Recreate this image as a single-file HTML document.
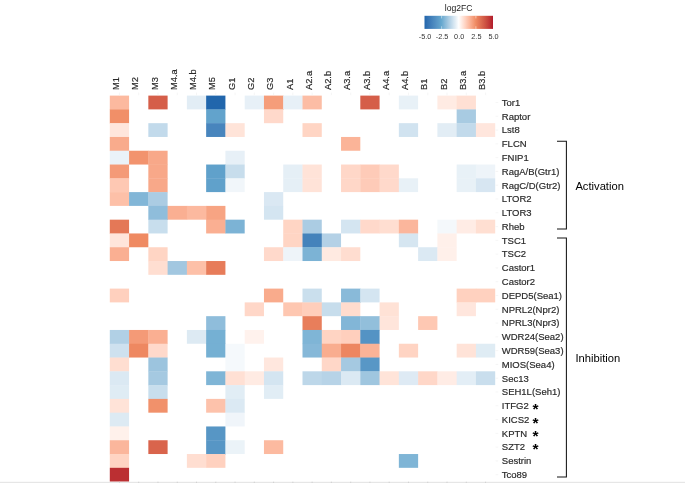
<!DOCTYPE html>
<html><head><meta charset="utf-8"><title>log2FC heatmap</title>
<style>html,body{margin:0;padding:0;background:#fff}svg{display:block}text{font-family:"Liberation Sans",Arial,Helvetica,sans-serif}</style></head><body>
<svg width="685" height="483" viewBox="0 0 685 483">
<rect width="685" height="483" fill="#fff"/>
<defs><linearGradient id="lg" x1="0" x2="1" y1="0" y2="0">
<stop offset="0.000" stop-color="#2166AC"/>
<stop offset="0.025" stop-color="#2B6CB0"/>
<stop offset="0.050" stop-color="#3473B3"/>
<stop offset="0.075" stop-color="#3B79B7"/>
<stop offset="0.100" stop-color="#4280BA"/>
<stop offset="0.125" stop-color="#4987BE"/>
<stop offset="0.150" stop-color="#4F8DC1"/>
<stop offset="0.175" stop-color="#5694C5"/>
<stop offset="0.200" stop-color="#5B9BC8"/>
<stop offset="0.225" stop-color="#61A2CC"/>
<stop offset="0.250" stop-color="#67A9CF"/>
<stop offset="0.275" stop-color="#78B1D4"/>
<stop offset="0.300" stop-color="#89BAD9"/>
<stop offset="0.325" stop-color="#98C2DD"/>
<stop offset="0.350" stop-color="#A8CBE2"/>
<stop offset="0.375" stop-color="#B7D3E7"/>
<stop offset="0.400" stop-color="#C5DCEC"/>
<stop offset="0.425" stop-color="#D4E5F1"/>
<stop offset="0.450" stop-color="#E2EDF5"/>
<stop offset="0.475" stop-color="#F1F6FA"/>
<stop offset="0.500" stop-color="#FFFFFF"/>
<stop offset="0.525" stop-color="#FFF3EE"/>
<stop offset="0.550" stop-color="#FFE7DE"/>
<stop offset="0.575" stop-color="#FFDCCE"/>
<stop offset="0.600" stop-color="#FFD0BE"/>
<stop offset="0.625" stop-color="#FDC4AE"/>
<stop offset="0.650" stop-color="#FCB99F"/>
<stop offset="0.675" stop-color="#F9AD8F"/>
<stop offset="0.700" stop-color="#F6A180"/>
<stop offset="0.725" stop-color="#F39671"/>
<stop offset="0.750" stop-color="#EF8A62"/>
<stop offset="0.775" stop-color="#E9805C"/>
<stop offset="0.800" stop-color="#E37656"/>
<stop offset="0.825" stop-color="#DD6C51"/>
<stop offset="0.850" stop-color="#D7624B"/>
<stop offset="0.875" stop-color="#D15845"/>
<stop offset="0.900" stop-color="#CB4D40"/>
<stop offset="0.925" stop-color="#C5423B"/>
<stop offset="0.950" stop-color="#BF3635"/>
<stop offset="0.975" stop-color="#B82930"/>
<stop offset="1.000" stop-color="#B2182B"/>
</linearGradient></defs>
<rect x="424.5" y="15.8" width="68.5" height="13.1" fill="url(#lg)"/>
<path d="M441.6 15.8v2.6M441.6 28.9v-2.6" stroke="#fff" stroke-width="0.6" opacity="0.8"/>
<path d="M458.8 15.8v2.6M458.8 28.9v-2.6" stroke="#fff" stroke-width="0.6" opacity="0.8"/>
<path d="M475.9 15.8v2.6M475.9 28.9v-2.6" stroke="#fff" stroke-width="0.6" opacity="0.8"/>
<text x="458.7" y="11" font-size="8.6" text-anchor="middle" fill="#222">log2FC</text>
<text x="425.0" y="39.1" font-size="7.3" text-anchor="middle" fill="#333">-5.0</text>
<text x="442.1" y="39.1" font-size="7.3" text-anchor="middle" fill="#333">-2.5</text>
<text x="459.2" y="39.1" font-size="7.3" text-anchor="middle" fill="#333">0.0</text>
<text x="476.4" y="39.1" font-size="7.3" text-anchor="middle" fill="#333">2.5</text>
<text x="493.5" y="39.1" font-size="7.3" text-anchor="middle" fill="#333">5.0</text>
<g>
<rect x="109.80" y="95.60" width="19.27" height="14.14" fill="#FCB99F"/>
<rect x="148.34" y="95.60" width="19.27" height="13.79" fill="#D55E49"/>
<rect x="186.88" y="95.60" width="19.62" height="13.79" fill="#E2EDF5"/>
<rect x="206.15" y="95.60" width="19.27" height="14.14" fill="#2166AC"/>
<rect x="244.69" y="95.60" width="19.62" height="13.79" fill="#E7F0F7"/>
<rect x="263.96" y="95.60" width="19.62" height="14.14" fill="#F59D7A"/>
<rect x="283.23" y="95.60" width="19.62" height="13.79" fill="#E7F0F7"/>
<rect x="302.50" y="95.60" width="19.27" height="13.79" fill="#FCBDA5"/>
<rect x="360.31" y="95.60" width="19.27" height="13.79" fill="#D55E49"/>
<rect x="398.85" y="95.60" width="19.27" height="13.79" fill="#E8F1F7"/>
<rect x="437.39" y="95.60" width="19.62" height="13.79" fill="#FFEBE3"/>
<rect x="456.66" y="95.60" width="19.27" height="14.14" fill="#FFE0D4"/>
<rect x="109.80" y="109.39" width="19.27" height="14.14" fill="#F18F68"/>
<rect x="206.15" y="109.39" width="19.27" height="14.14" fill="#62A3CC"/>
<rect x="263.96" y="109.39" width="19.27" height="13.79" fill="#FFD9CB"/>
<rect x="456.66" y="109.39" width="19.27" height="14.14" fill="#A8CBE2"/>
<rect x="109.80" y="123.17" width="19.27" height="14.14" fill="#FFE6DC"/>
<rect x="148.34" y="123.17" width="19.27" height="13.79" fill="#C2DAEB"/>
<rect x="206.15" y="123.17" width="19.62" height="13.79" fill="#4885BD"/>
<rect x="225.42" y="123.17" width="19.27" height="13.79" fill="#FFE4D9"/>
<rect x="302.50" y="123.17" width="19.27" height="13.79" fill="#FFD5C4"/>
<rect x="398.85" y="123.17" width="19.27" height="13.79" fill="#D1E3F0"/>
<rect x="437.39" y="123.17" width="19.62" height="13.79" fill="#E2EDF5"/>
<rect x="456.66" y="123.17" width="19.62" height="13.79" fill="#C2DAEB"/>
<rect x="475.93" y="123.17" width="19.27" height="13.79" fill="#FFE6DD"/>
<rect x="109.80" y="136.96" width="19.27" height="14.14" fill="#F9AB8C"/>
<rect x="341.04" y="136.96" width="19.27" height="13.79" fill="#FBB498"/>
<rect x="109.80" y="150.74" width="19.62" height="14.14" fill="#EAF2F8"/>
<rect x="129.07" y="150.74" width="19.62" height="13.79" fill="#F2936E"/>
<rect x="148.34" y="150.74" width="19.27" height="14.14" fill="#F8A889"/>
<rect x="225.42" y="150.74" width="19.27" height="14.14" fill="#E7F0F7"/>
<rect x="109.80" y="164.53" width="19.27" height="14.14" fill="#F49A77"/>
<rect x="148.34" y="164.53" width="19.27" height="14.14" fill="#F8A889"/>
<rect x="206.15" y="164.53" width="19.62" height="14.14" fill="#60A1CB"/>
<rect x="225.42" y="164.53" width="19.27" height="14.14" fill="#C7DDEC"/>
<rect x="283.23" y="164.53" width="19.62" height="14.14" fill="#E5EFF6"/>
<rect x="302.50" y="164.53" width="19.27" height="14.14" fill="#FFE3D8"/>
<rect x="341.04" y="164.53" width="19.62" height="14.14" fill="#FFD7C8"/>
<rect x="360.31" y="164.53" width="19.62" height="14.14" fill="#FECBB8"/>
<rect x="379.58" y="164.53" width="19.27" height="14.14" fill="#FFD9CB"/>
<rect x="456.66" y="164.53" width="19.62" height="14.14" fill="#E8F1F7"/>
<rect x="475.93" y="164.53" width="19.27" height="14.14" fill="#EEF4F9"/>
<rect x="109.80" y="178.31" width="19.27" height="14.14" fill="#FEC8B3"/>
<rect x="148.34" y="178.31" width="19.27" height="14.14" fill="#F8A889"/>
<rect x="206.15" y="178.31" width="19.62" height="13.79" fill="#60A1CB"/>
<rect x="225.42" y="178.31" width="19.27" height="13.79" fill="#F1F6FA"/>
<rect x="283.23" y="178.31" width="19.62" height="13.79" fill="#E5EFF6"/>
<rect x="302.50" y="178.31" width="19.27" height="13.79" fill="#FFE3D8"/>
<rect x="341.04" y="178.31" width="19.62" height="13.79" fill="#FFD7C8"/>
<rect x="360.31" y="178.31" width="19.62" height="13.79" fill="#FECBB8"/>
<rect x="379.58" y="178.31" width="19.62" height="13.79" fill="#FFD9CB"/>
<rect x="398.85" y="178.31" width="19.27" height="13.79" fill="#E8F1F7"/>
<rect x="456.66" y="178.31" width="19.62" height="13.79" fill="#E8F1F7"/>
<rect x="475.93" y="178.31" width="19.27" height="13.79" fill="#D7E6F2"/>
<rect x="109.80" y="192.10" width="19.62" height="13.79" fill="#FDC0A8"/>
<rect x="129.07" y="192.10" width="19.62" height="13.79" fill="#82B6D7"/>
<rect x="148.34" y="192.10" width="19.27" height="14.14" fill="#ABCCE3"/>
<rect x="263.96" y="192.10" width="19.27" height="14.14" fill="#DAE8F3"/>
<rect x="148.34" y="205.89" width="19.62" height="14.14" fill="#8FBDDB"/>
<rect x="167.61" y="205.89" width="19.62" height="13.79" fill="#FAAF92"/>
<rect x="186.88" y="205.89" width="19.62" height="13.79" fill="#FCB99F"/>
<rect x="206.15" y="205.89" width="19.27" height="14.14" fill="#F7A483"/>
<rect x="263.96" y="205.89" width="19.27" height="13.79" fill="#D4E5F1"/>
<rect x="109.80" y="219.67" width="19.27" height="14.14" fill="#E47857"/>
<rect x="148.34" y="219.67" width="19.27" height="13.79" fill="#C8DEED"/>
<rect x="206.15" y="219.67" width="19.62" height="13.79" fill="#FAAF92"/>
<rect x="225.42" y="219.67" width="19.27" height="13.79" fill="#7CB3D5"/>
<rect x="283.23" y="219.67" width="19.62" height="14.14" fill="#FFD5C4"/>
<rect x="302.50" y="219.67" width="19.27" height="14.14" fill="#ABCCE3"/>
<rect x="341.04" y="219.67" width="19.62" height="13.79" fill="#D4E5F1"/>
<rect x="360.31" y="219.67" width="19.62" height="13.79" fill="#FFD9CB"/>
<rect x="379.58" y="219.67" width="19.62" height="13.79" fill="#FFDED1"/>
<rect x="398.85" y="219.67" width="19.27" height="14.14" fill="#FBB69C"/>
<rect x="437.39" y="219.67" width="19.62" height="14.14" fill="#F4F8FB"/>
<rect x="456.66" y="219.67" width="19.62" height="13.79" fill="#FFECE5"/>
<rect x="475.93" y="219.67" width="19.27" height="13.79" fill="#FFDFD2"/>
<rect x="109.80" y="233.46" width="19.62" height="14.14" fill="#FFE5DB"/>
<rect x="129.07" y="233.46" width="19.27" height="13.79" fill="#EF8A62"/>
<rect x="283.23" y="233.46" width="19.62" height="14.14" fill="#FFD5C4"/>
<rect x="302.50" y="233.46" width="19.62" height="14.14" fill="#4583BB"/>
<rect x="321.77" y="233.46" width="19.27" height="14.14" fill="#B4D1E6"/>
<rect x="398.85" y="233.46" width="19.27" height="13.79" fill="#D6E6F1"/>
<rect x="437.39" y="233.46" width="19.27" height="14.14" fill="#FFF0EA"/>
<rect x="109.80" y="247.24" width="19.27" height="13.79" fill="#FAAF92"/>
<rect x="148.34" y="247.24" width="19.27" height="14.14" fill="#FFD5C4"/>
<rect x="263.96" y="247.24" width="19.62" height="13.79" fill="#FFD9CB"/>
<rect x="283.23" y="247.24" width="19.62" height="13.79" fill="#EEF4F9"/>
<rect x="302.50" y="247.24" width="19.62" height="13.79" fill="#7CB3D5"/>
<rect x="321.77" y="247.24" width="19.62" height="13.79" fill="#FFEAE1"/>
<rect x="341.04" y="247.24" width="19.27" height="13.79" fill="#FFDDD0"/>
<rect x="418.12" y="247.24" width="19.62" height="13.79" fill="#DBE9F3"/>
<rect x="437.39" y="247.24" width="19.27" height="13.79" fill="#FFF0EA"/>
<rect x="148.34" y="261.03" width="19.62" height="13.79" fill="#FFDED1"/>
<rect x="167.61" y="261.03" width="19.62" height="13.79" fill="#A2C7E0"/>
<rect x="186.88" y="261.03" width="19.62" height="13.79" fill="#FDC0A8"/>
<rect x="206.15" y="261.03" width="19.27" height="13.79" fill="#E77C5A"/>
<rect x="109.80" y="288.60" width="19.27" height="13.79" fill="#FFD0BE"/>
<rect x="263.96" y="288.60" width="19.27" height="13.79" fill="#F9AB8C"/>
<rect x="302.50" y="288.60" width="19.27" height="14.14" fill="#CADFED"/>
<rect x="341.04" y="288.60" width="19.62" height="14.14" fill="#89BAD9"/>
<rect x="360.31" y="288.60" width="19.27" height="13.79" fill="#D4E5F1"/>
<rect x="456.66" y="288.60" width="19.62" height="14.14" fill="#FFD1BF"/>
<rect x="475.93" y="288.60" width="19.27" height="13.79" fill="#FFD1BF"/>
<rect x="244.69" y="302.39" width="19.27" height="13.79" fill="#FFD7C8"/>
<rect x="283.23" y="302.39" width="19.62" height="13.79" fill="#FEC7B1"/>
<rect x="302.50" y="302.39" width="19.62" height="14.14" fill="#FFCEBB"/>
<rect x="321.77" y="302.39" width="19.62" height="13.79" fill="#C7DDEC"/>
<rect x="341.04" y="302.39" width="19.27" height="14.14" fill="#FFDCCE"/>
<rect x="379.58" y="302.39" width="19.27" height="14.14" fill="#FFE2D6"/>
<rect x="456.66" y="302.39" width="19.27" height="13.79" fill="#FFE6DD"/>
<rect x="206.15" y="316.17" width="19.27" height="14.14" fill="#8FBDDB"/>
<rect x="302.50" y="316.17" width="19.27" height="14.14" fill="#E87E5B"/>
<rect x="341.04" y="316.17" width="19.62" height="14.14" fill="#82B6D7"/>
<rect x="360.31" y="316.17" width="19.62" height="14.14" fill="#92BFDB"/>
<rect x="379.58" y="316.17" width="19.27" height="13.79" fill="#FFE5DB"/>
<rect x="418.12" y="316.17" width="19.27" height="13.79" fill="#FEC8B3"/>
<rect x="109.80" y="329.96" width="19.62" height="14.14" fill="#B1D0E5"/>
<rect x="129.07" y="329.96" width="19.62" height="14.14" fill="#F49A77"/>
<rect x="148.34" y="329.96" width="19.27" height="14.14" fill="#FAAF92"/>
<rect x="186.88" y="329.96" width="19.62" height="13.79" fill="#DDEAF3"/>
<rect x="206.15" y="329.96" width="19.27" height="14.14" fill="#75B0D3"/>
<rect x="244.69" y="329.96" width="19.27" height="13.79" fill="#FFF2ED"/>
<rect x="302.50" y="329.96" width="19.62" height="14.14" fill="#7FB5D6"/>
<rect x="321.77" y="329.96" width="19.62" height="14.14" fill="#FFD4C3"/>
<rect x="341.04" y="329.96" width="19.62" height="14.14" fill="#FFCFBD"/>
<rect x="360.31" y="329.96" width="19.27" height="14.14" fill="#5493C4"/>
<rect x="109.80" y="343.74" width="19.62" height="14.14" fill="#CEE1EF"/>
<rect x="129.07" y="343.74" width="19.62" height="13.79" fill="#EE8861"/>
<rect x="148.34" y="343.74" width="19.27" height="14.14" fill="#FFD9CB"/>
<rect x="206.15" y="343.74" width="19.62" height="13.79" fill="#75B0D3"/>
<rect x="225.42" y="343.74" width="19.27" height="14.14" fill="#F5F9FC"/>
<rect x="302.50" y="343.74" width="19.62" height="13.79" fill="#86B8D8"/>
<rect x="321.77" y="343.74" width="19.62" height="14.14" fill="#F9AD8F"/>
<rect x="341.04" y="343.74" width="19.62" height="14.14" fill="#ED8660"/>
<rect x="360.31" y="343.74" width="19.27" height="14.14" fill="#FAB397"/>
<rect x="398.85" y="343.74" width="19.27" height="13.79" fill="#FFD4C3"/>
<rect x="456.66" y="343.74" width="19.62" height="13.79" fill="#FFE3D8"/>
<rect x="475.93" y="343.74" width="19.27" height="13.79" fill="#DFECF4"/>
<rect x="109.80" y="357.53" width="19.27" height="14.14" fill="#FFDED1"/>
<rect x="148.34" y="357.53" width="19.27" height="14.14" fill="#9CC4DE"/>
<rect x="225.42" y="357.53" width="19.27" height="14.14" fill="#F5F9FC"/>
<rect x="263.96" y="357.53" width="19.27" height="14.14" fill="#FFE7DE"/>
<rect x="321.77" y="357.53" width="19.62" height="14.14" fill="#FFD7C8"/>
<rect x="341.04" y="357.53" width="19.62" height="14.14" fill="#A5C9E1"/>
<rect x="360.31" y="357.53" width="19.27" height="14.14" fill="#5897C6"/>
<rect x="109.80" y="371.31" width="19.27" height="14.14" fill="#DBE9F3"/>
<rect x="148.34" y="371.31" width="19.27" height="14.14" fill="#A5C9E1"/>
<rect x="206.15" y="371.31" width="19.62" height="13.79" fill="#7FB5D6"/>
<rect x="225.42" y="371.31" width="19.62" height="14.14" fill="#FFE0D4"/>
<rect x="244.69" y="371.31" width="19.62" height="13.79" fill="#FFEBE3"/>
<rect x="263.96" y="371.31" width="19.27" height="14.14" fill="#D4E5F1"/>
<rect x="302.50" y="371.31" width="19.62" height="13.79" fill="#BDD7E9"/>
<rect x="321.77" y="371.31" width="19.62" height="13.79" fill="#B7D3E7"/>
<rect x="341.04" y="371.31" width="19.62" height="13.79" fill="#DBE9F3"/>
<rect x="360.31" y="371.31" width="19.62" height="13.79" fill="#9FC6DF"/>
<rect x="379.58" y="371.31" width="19.62" height="13.79" fill="#FFE4D9"/>
<rect x="398.85" y="371.31" width="19.62" height="13.79" fill="#DEEAF4"/>
<rect x="418.12" y="371.31" width="19.62" height="13.79" fill="#FFD7C8"/>
<rect x="437.39" y="371.31" width="19.62" height="13.79" fill="#FFECE5"/>
<rect x="456.66" y="371.31" width="19.62" height="13.79" fill="#E3EEF6"/>
<rect x="475.93" y="371.31" width="19.27" height="13.79" fill="#C9DEED"/>
<rect x="109.80" y="385.10" width="19.27" height="14.14" fill="#DFECF4"/>
<rect x="148.34" y="385.10" width="19.27" height="14.14" fill="#C8DEED"/>
<rect x="225.42" y="385.10" width="19.27" height="14.14" fill="#E1EDF5"/>
<rect x="263.96" y="385.10" width="19.27" height="13.79" fill="#E1EDF5"/>
<rect x="109.80" y="398.89" width="19.27" height="14.14" fill="#FFE3D8"/>
<rect x="148.34" y="398.89" width="19.27" height="13.79" fill="#F1916B"/>
<rect x="206.15" y="398.89" width="19.62" height="13.79" fill="#FDC2AB"/>
<rect x="225.42" y="398.89" width="19.27" height="14.14" fill="#DBE9F3"/>
<rect x="109.80" y="412.67" width="19.27" height="14.14" fill="#DDEAF3"/>
<rect x="225.42" y="412.67" width="19.27" height="13.79" fill="#F0F5FA"/>
<rect x="109.80" y="426.46" width="19.27" height="14.14" fill="#FFF1EB"/>
<rect x="206.15" y="426.46" width="19.27" height="14.14" fill="#5796C5"/>
<rect x="109.80" y="440.24" width="19.27" height="14.14" fill="#FBB69C"/>
<rect x="148.34" y="440.24" width="19.27" height="13.79" fill="#D9644C"/>
<rect x="206.15" y="440.24" width="19.62" height="14.14" fill="#5796C5"/>
<rect x="225.42" y="440.24" width="19.27" height="13.79" fill="#EBF3F8"/>
<rect x="263.96" y="440.24" width="19.27" height="13.79" fill="#FCBAA0"/>
<rect x="109.80" y="454.03" width="19.27" height="14.14" fill="#FFD4C3"/>
<rect x="186.88" y="454.03" width="19.62" height="13.79" fill="#FFDED1"/>
<rect x="206.15" y="454.03" width="19.27" height="13.79" fill="#FFD1BF"/>
<rect x="398.85" y="454.03" width="19.27" height="13.79" fill="#7FB5D6"/>
<rect x="109.80" y="467.81" width="19.27" height="13.79" fill="#BB2F32"/>
</g>
<g font-size="9.3" fill="#2a2a2a" stroke="#2a2a2a" stroke-width="0.18">
<text transform="translate(119.14 90) rotate(-90)">M1</text>
<text transform="translate(138.40 90) rotate(-90)">M2</text>
<text transform="translate(157.67 90) rotate(-90)">M3</text>
<text transform="translate(176.94 90) rotate(-90)">M4.a</text>
<text transform="translate(196.21 90) rotate(-90)">M4.b</text>
<text transform="translate(215.48 90) rotate(-90)">M5</text>
<text transform="translate(234.75 90) rotate(-90)">G1</text>
<text transform="translate(254.02 90) rotate(-90)">G2</text>
<text transform="translate(273.29 90) rotate(-90)">G3</text>
<text transform="translate(292.56 90) rotate(-90)">A1</text>
<text transform="translate(311.83 90) rotate(-90)">A2.a</text>
<text transform="translate(331.10 90) rotate(-90)">A2.b</text>
<text transform="translate(350.38 90) rotate(-90)">A3.a</text>
<text transform="translate(369.64 90) rotate(-90)">A3.b</text>
<text transform="translate(388.92 90) rotate(-90)">A4.a</text>
<text transform="translate(408.19 90) rotate(-90)">A4.b</text>
<text transform="translate(427.45 90) rotate(-90)">B1</text>
<text transform="translate(446.72 90) rotate(-90)">B2</text>
<text transform="translate(466.00 90) rotate(-90)">B3.a</text>
<text transform="translate(485.26 90) rotate(-90)">B3.b</text>
</g>
<g stroke="#f0f0f0" stroke-width="0.7">
<path d="M119.44 92.6V95.2"/>
<path d="M138.70 92.6V95.2"/>
<path d="M157.97 92.6V95.2"/>
<path d="M177.25 92.6V95.2"/>
<path d="M196.51 92.6V95.2"/>
<path d="M215.78 92.6V95.2"/>
<path d="M235.06 92.6V95.2"/>
<path d="M254.32 92.6V95.2"/>
<path d="M273.59 92.6V95.2"/>
<path d="M292.87 92.6V95.2"/>
<path d="M312.13 92.6V95.2"/>
<path d="M331.40 92.6V95.2"/>
<path d="M350.68 92.6V95.2"/>
<path d="M369.94 92.6V95.2"/>
<path d="M389.22 92.6V95.2"/>
<path d="M408.49 92.6V95.2"/>
<path d="M427.75 92.6V95.2"/>
<path d="M447.02 92.6V95.2"/>
<path d="M466.30 92.6V95.2"/>
<path d="M485.56 92.6V95.2"/>
<path d="M495.6 102.49H498.2"/>
<path d="M495.6 116.28H498.2"/>
<path d="M495.6 130.06H498.2"/>
<path d="M495.6 143.85H498.2"/>
<path d="M495.6 157.64H498.2"/>
<path d="M495.6 171.42H498.2"/>
<path d="M495.6 185.21H498.2"/>
<path d="M495.6 198.99H498.2"/>
<path d="M495.6 212.78H498.2"/>
<path d="M495.6 226.56H498.2"/>
<path d="M495.6 240.35H498.2"/>
<path d="M495.6 254.14H498.2"/>
<path d="M495.6 267.92H498.2"/>
<path d="M495.6 281.71H498.2"/>
<path d="M495.6 295.49H498.2"/>
<path d="M495.6 309.28H498.2"/>
<path d="M495.6 323.06H498.2"/>
<path d="M495.6 336.85H498.2"/>
<path d="M495.6 350.64H498.2"/>
<path d="M495.6 364.42H498.2"/>
<path d="M495.6 378.21H498.2"/>
<path d="M495.6 391.99H498.2"/>
<path d="M495.6 405.78H498.2"/>
<path d="M495.6 419.56H498.2"/>
<path d="M495.6 433.35H498.2"/>
<path d="M495.6 447.14H498.2"/>
<path d="M495.6 460.92H498.2"/>
<path d="M495.6 474.71H498.2"/>
</g>
<g font-size="9.5" fill="#2a2a2a" stroke="#2a2a2a" stroke-width="0.18">
<text x="501.8" y="105.79">Tor1</text>
<text x="501.8" y="119.58">Raptor</text>
<text x="501.8" y="133.36">Lst8</text>
<text x="501.8" y="147.15">FLCN</text>
<text x="501.8" y="160.94">FNIP1</text>
<text x="501.8" y="174.72">RagA/B(Gtr1)</text>
<text x="501.8" y="188.51">RagC/D(Gtr2)</text>
<text x="501.8" y="202.29">LTOR2</text>
<text x="501.8" y="216.08">LTOR3</text>
<text x="501.8" y="229.86">Rheb</text>
<text x="501.8" y="243.65">TSC1</text>
<text x="501.8" y="257.44">TSC2</text>
<text x="501.8" y="271.22">Castor1</text>
<text x="501.8" y="285.01">Castor2</text>
<text x="501.8" y="298.79">DEPD5(Sea1)</text>
<text x="501.8" y="312.58">NPRL2(Npr2)</text>
<text x="501.8" y="326.36">NPRL3(Npr3)</text>
<text x="501.8" y="340.15">WDR24(Sea2)</text>
<text x="501.8" y="353.94">WDR59(Sea3)</text>
<text x="501.8" y="367.72">MIOS(Sea4)</text>
<text x="501.8" y="381.51">Sec13</text>
<text x="501.8" y="395.29">SEH1L(Seh1)</text>
<text x="501.8" y="409.08">ITFG2</text>
<text x="501.8" y="422.86">KICS2</text>
<text x="501.8" y="436.65">KPTN</text>
<text x="501.8" y="450.44">SZT2</text>
<text x="501.8" y="464.22">Sestrin</text>
<text x="501.8" y="478.01">Tco89</text>
</g>
<g font-size="15.5" font-weight="bold" fill="#000" text-anchor="middle">
<text x="535.5" y="414.40">*</text>
<text x="535.5" y="427.55">*</text>
<text x="535.5" y="440.90">*</text>
<text x="535.5" y="454.00">*</text>
</g>
<g fill="none" stroke="#151515" stroke-width="1.05">
<path d="M557 141.3H566.4V229H557"/>
<path d="M557 238H566.4V477H557"/>
</g>
<text x="575.4" y="190" font-size="11.2" fill="#000">Activation</text>
<text x="575.4" y="362" font-size="11.2" fill="#000">Inhibition</text>
<rect x="0" y="481.8" width="685" height="1.2" fill="#e6e6e6"/>
<g stroke="#cccccc" stroke-width="0.8">
<path d="M119.44 481.7V483"/>
<path d="M138.70 481.7V483"/>
<path d="M157.97 481.7V483"/>
<path d="M177.25 481.7V483"/>
<path d="M196.51 481.7V483"/>
<path d="M215.78 481.7V483"/>
<path d="M235.06 481.7V483"/>
<path d="M254.32 481.7V483"/>
<path d="M273.59 481.7V483"/>
<path d="M292.87 481.7V483"/>
<path d="M312.13 481.7V483"/>
<path d="M331.40 481.7V483"/>
<path d="M350.68 481.7V483"/>
<path d="M369.94 481.7V483"/>
<path d="M389.22 481.7V483"/>
<path d="M408.49 481.7V483"/>
<path d="M427.75 481.7V483"/>
<path d="M447.02 481.7V483"/>
<path d="M466.30 481.7V483"/>
<path d="M485.56 481.7V483"/>
</g>
</svg></body></html>
